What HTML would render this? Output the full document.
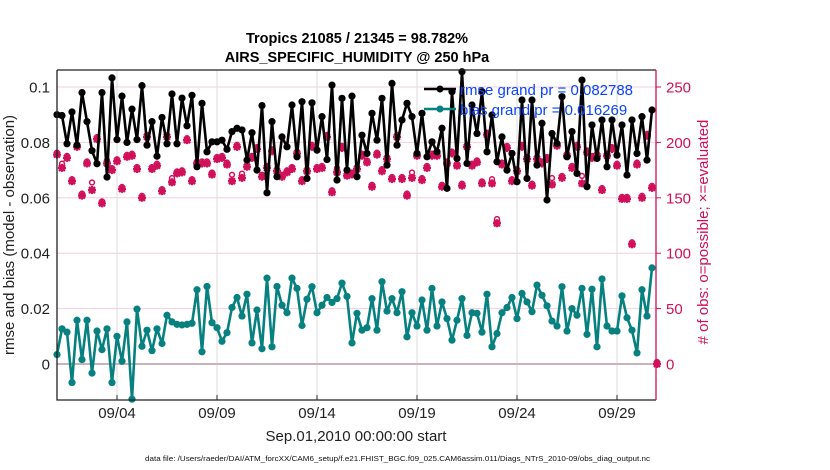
<!DOCTYPE html>
<html><head><meta charset="utf-8"><style>
html,body{margin:0;padding:0;background:#fff;}
svg{display:block;font-family:"Liberation Sans",sans-serif;}
</style></head><body>
<svg id="chart" width="830" height="470" viewBox="0 0 830 470" xmlns="http://www.w3.org/2000/svg">
<g id="grid"></g>
<g id="series"></g>
<g id="axes"></g>
<text x="357" y="43" text-anchor="middle" font-size="14.5" font-weight="bold">Tropics 21085 / 21345 = 98.782%</text>
<text x="357" y="62" text-anchor="middle" font-size="14.5" font-weight="bold">AIRS_SPECIFIC_HUMIDITY @ 250 hPa</text>
<text x="356" y="441" text-anchor="middle" font-size="15" fill="#222">Sep.01,2010 00:00:00 start</text>
<text transform="translate(14,235) rotate(-90)" text-anchor="middle" font-size="15" fill="#222">rmse and bias (model - observation)</text>
<text transform="translate(708,232) rotate(-90)" text-anchor="middle" font-size="15" fill="#d0105a">#  of obs: o=possible; ×=evaluated</text>
<text x="145" y="461" font-size="7.5" textLength="505" lengthAdjust="spacingAndGlyphs" fill="#111">data file: /Users/raeder/DAI/ATM_forcXX/CAM6_setup/f.e21.FHIST_BGC.f09_025.CAM6assim.011/Diags_NTrS_2010-09/obs_diag_output.nc</text>
<g>
  <line x1="424" y1="89" x2="456" y2="89" stroke="#000" stroke-width="2.5"/>
  <circle cx="440" cy="89" r="3.5" fill="#000"/>
  <text x="460" y="95" font-size="15" fill="#0a44ff">rmse grand pr = 0.082788</text>
  <line x1="424" y1="109" x2="456" y2="109" stroke="#078080" stroke-width="2.5"/>
  <circle cx="440" cy="109" r="3.5" fill="#078080"/>
  <text x="460" y="115" font-size="15" fill="#0a44ff">bias grand pr = 0.016269</text>
</g>
</svg>
<script>
const rmse=[0.090,0.0897,0.0795,0.091,0.079,0.098,0.0875,0.077,0.0723,0.098,0.0675,0.1033,0.081,0.0967,0.080,0.092,0.081,0.1005,0.079,0.0875,0.075,0.089,0.0795,0.0975,0.0795,0.096,0.086,0.097,0.0712,0.0941,
0.0766,0.0802,0.0802,0.0808,0.0775,0.0839,0.0851,0.0845,0.0736,0.0835,0.070,0.0933,0.0618,0.0875,0.0676,0.082,0.0784,0.0935,0.0748,0.0947,0.067,0.0943,0.0772,0.0893,0.0738,0.1007,0.0664,0.0959,0.070,0.0967,
0.0676,0.0826,0.076,0.0905,0.0808,0.0959,0.0718,0.1013,0.079,0.0881,0.0941,0.0893,0.076,0.0905,0.0748,0.0802,0.0766,0.0851,0.0634,0.0983,0.0742,0.1055,0.0724,0.0935,0.0832,0.0983,0.0766,0.0899,0.073,0.082,
0.070,0.076,0.0658,0.0953,0.067,0.0953,0.0718,0.0869,0.0592,0.0832,0.0796,0.0965,0.0748,0.0839,0.0688,0.1025,0.064,0.0863,0.0742,0.0881,0.0712,0.0881,0.0754,0.0863,0.0682,0.0881,0.076,0.0893,0.0736,0.0917];
const bias=[0.0034,0.0127,0.0115,-0.0067,0.0158,0.0016,0.0158,-0.0033,0.0119,0.0052,0.0127,-0.0067,0.010,0.001,0.0152,-0.0127,0.0198,0.0064,0.0122,0.0048,0.0127,0.0074,0.0176,0.0152,0.0143,0.0141,0.0143,0.0147,0.0268,0.0044,
0.028,0.0149,0.0131,0.0082,0.0113,0.0204,0.024,0.0173,0.0252,0.0076,0.0195,0.0055,0.031,0.0062,0.028,0.0212,0.0185,0.031,0.0273,0.0139,0.0234,0.0279,0.0185,0.0212,0.024,0.0222,0.0236,0.0292,0.0244,0.0076,
0.0183,0.0122,0.0131,0.0236,0.0122,0.0297,0.0191,0.0236,0.0185,0.0261,0.0098,0.0185,0.0137,0.0231,0.0122,0.0273,0.0137,0.0224,0.0164,0.0086,0.0158,0.0236,0.0103,0.0185,0.0183,0.0115,0.0252,0.0062,0.011,0.0185,
0.0204,0.024,0.0164,0.0255,0.0224,0.0189,0.0285,0.0248,0.021,0.0155,0.0137,0.0279,0.0119,0.02,0.0176,0.0273,0.0107,0.027,0.0062,0.0307,0.0137,0.0119,0.0119,0.0246,0.0167,0.0122,0.004,0.0268,0.0173,0.0347];
const evaluated=[189,177,186,165,196,152,181,157,203,145,181,175,183,158,187,188,176,150,205,176,179,156,205,164,172,173,202,165,181,181,
181,171,185,186,180,165,196,168,178,186,194,169,177,192,174,169,173,176,190,165,174,196,176,177,205,155,173,195,170,171,
176,188,182,160,189,174,185,167,205,167,152,168,188,166,177,188,188,160,181,190,179,161,196,179,182,163,207,163,127,180,
195,165,174,196,185,161,185,181,185,162,197,168,188,177,196,163,191,186,188,157,188,194,179,149,149,108,180,150,206,159,0];
const possible=[189,179,186,165,196,152,181,162,203,145,182,175,183,158,187,188,176,150,205,176,179,156,205,166,172,173,202,165,181,181,
181,171,185,186,180,169,196,170,178,186,194,169,177,192,174,169,173,176,190,165,174,196,176,177,205,155,175,195,170,171,
176,188,182,160,189,174,185,167,205,167,152,171,188,166,177,188,188,160,181,190,179,161,196,179,182,163,207,165,129,180,
195,165,174,196,185,161,185,181,185,166,197,168,188,177,196,168,191,186,188,157,188,194,179,149,149,108,180,150,206,159,0];
const xTickDays=[3,8,13,18,23,28];
const xTickLabels=["09/04","09/09","09/14","09/19","09/24","09/29"];
const yTicks=[0,0.02,0.04,0.06,0.08,0.1];
const yTickLabels=["0","0.02","0.04","0.06","0.08","0.1"];
const y2Ticks=[0,50,100,150,200,250];

const NS="http://www.w3.org/2000/svg";
const L=57,R=656,T=70,B=400;
const xs=t=>L+t*(R-L)/29.95;
const ys=v=>364-v*2770;
const y2s=c=>364-c*1.108;
const idxT=k=>k*0.25;
function mk(tag,attrs,parent){const e=document.createElementNS(NS,tag);for(const a in attrs)e.setAttribute(a,attrs[a]);parent.appendChild(e);return e;}
const grid=document.getElementById('grid'),ser=document.getElementById('series'),ax=document.getElementById('axes');
const pink="#d0105a";
yTicks.forEach((v,i)=>{
  if(v!==0){const g=mk('line',{x1:L,x2:R,y1:ys(v),y2:ys(v),stroke:'#f2cfdc','stroke-width':1},grid);
  
  }
  const t=mk('text',{x:50,y:ys(v)+5.5,'text-anchor':'end','font-size':15,fill:'#222'},ax);t.textContent=yTickLabels[i];
  
  
});
xTickDays.forEach((d,i)=>{
  const g=mk('line',{x1:xs(d),x2:xs(d),y1:T,y2:B,stroke:'#dcdcdc','stroke-width':1},grid);
  
  
  const tk=mk('line',{x1:xs(d),x2:xs(d),y1:B,y2:B-5,stroke:'#222'},ax);
  
  
  const t=mk('text',{x:xs(d),y:418,'text-anchor':'middle','font-size':15,fill:'#222'},ax);t.textContent=xTickLabels[i];
  
  
});
const zl=mk('line',{x1:L,x2:R,y1:ys(0),y2:ys(0),stroke:'#c9b3bb','stroke-width':2},grid);


evaluated.forEach((c,k)=>{
  const x=xs(idxT(k)),y=y2s(c);
  const g=mk('g',{},ser);
  
  
  mk('path',{d:`M${x-4} ${y}H${x+4}M${x} ${y-4}V${y+4}M${x-3} ${y-3}L${x+3} ${y+3}M${x-3} ${y+3}L${x+3} ${y-3}`,stroke:pink,'stroke-width':2.3},g);
});
possible.forEach((c,k)=>{
  const p=mk('circle',{cx:xs(idxT(k)),cy:y2s(c)-2,r:2.4,fill:'none',stroke:pink,'stroke-width':1.5},ser);
  
  
});
function line(arr,color,name){
  const d=arr.map((v,k)=>(k?'L':'M')+xs(idxT(k)).toFixed(1)+' '+ys(v).toFixed(1)).join('');
  const p=mk('path',{d:d,fill:'none',stroke:color,'stroke-width':2.6,'stroke-linejoin':'round'},ser);
  
  
  arr.forEach((v,k)=>{const c=mk('circle',{cx:xs(idxT(k)),cy:ys(v),r:3.6,fill:color},ser);
    
    });
}
line(rmse,'#000','rmse');
line(bias,'#078080','bias');
const fr=mk('path',{d:`M${L} ${T}H${R}M${L} ${T}V${B}H${R}`,fill:'none',stroke:'#222','stroke-width':1.3},ax);


const ra=mk('line',{x1:R,x2:R,y1:T,y2:B,stroke:pink,'stroke-width':1.3},ax);


y2Ticks.forEach(c=>{
  const tk=mk('line',{x1:R,x2:R+5,y1:y2s(c),y2:y2s(c),stroke:pink},ax);
  
  
  const t=mk('text',{x:666,y:y2s(c)+5.5,'font-size':15,fill:pink},ax);t.textContent=String(c);
  
  
});
</script>
</body></html>
